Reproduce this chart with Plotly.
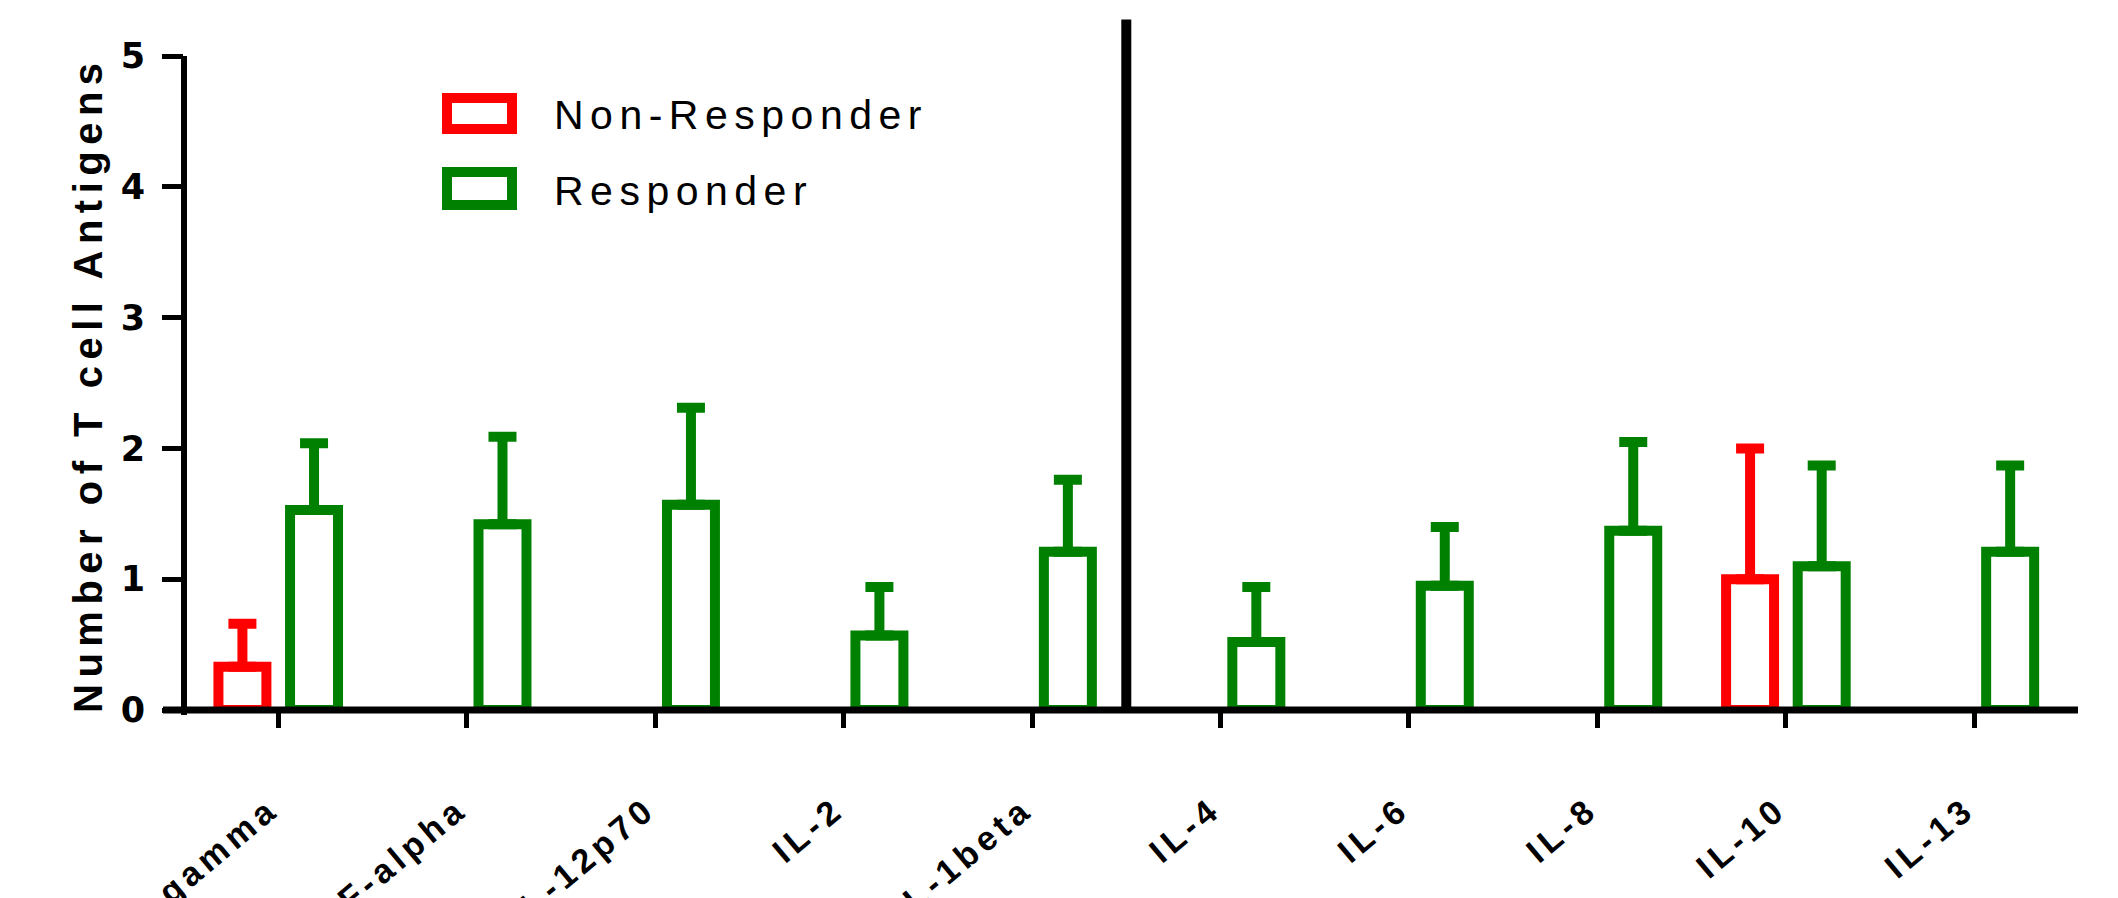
import plotly.graph_objects as go

# Cytokine panel and group summaries (mean and upper SEM)
cytokines = ["IFN-gamma", "TNF-alpha", "IL-12p70", "IL-2", "IL-1beta",
             "IL-4", "IL-6", "IL-8", "IL-10", "IL-13"]
responder_mean = [1.53, 1.42, 1.57, 0.57, 1.21, 0.52, 0.95, 1.37, 1.10, 1.21]
responder_sem = [0.51, 0.67, 0.74, 0.37, 0.55, 0.42, 0.45, 0.68, 0.77, 0.66]
non_responder_mean = [0.33, None, None, None, None, None, None, None, 1.00, None]
non_responder_sem = [0.33, None, None, None, None, None, None, None, 1.00, None]
series_names = ["Non-Responder", "Responder"]
y_ticks = [0, 1, 2, 3, 4, 5]
y_title = "Number of T cell Antigens"

RED = "#FF0000"
GREEN = "#008000"
W, H = 2118, 898
ML, MR, MT, MB = 184, 40, 10, 188
PW, PH = W - ML - MR, H - MT - MB


def px_x(p):
    return (p - ML) / PW


def px_y(p):
    return (H - MB - p) / PH


def spaced(text, px):
    return f'<span style="letter-spacing:{px}px">{text}</span>'


def one_sided(sem):
    return [0 if s is not None else None for s in sem]


fig = go.Figure()
for name, mean, sem, col in [
    (series_names[0], non_responder_mean, non_responder_sem, RED),
    (series_names[1], responder_mean, responder_sem, GREEN),
]:
    fig.add_trace(go.Bar(
        name=name, x=cytokines, y=mean,
        marker=dict(color="white", line=dict(color=col, width=10)),
        error_y=dict(type="data", symmetric=False, array=sem,
                     arrayminus=one_sided(sem), color=col,
                     thickness=10, width=14),
    ))

y_max = 5.352

# axis lines
fig.add_shape(type="line", xref="paper", yref="paper",
              x0=px_x(163), x1=1, y0=0, y1=0,
              line=dict(color="black", width=7))
fig.add_shape(type="line", xref="paper", yref="paper",
              x0=0, x1=0, y0=px_y(715), y1=5 / y_max,
              line=dict(color="black", width=6))
# divider between the two cytokine groups
fig.add_shape(type="line", xref="x", yref="y",
              x0=4.5, x1=4.5, y0=0, y1=5.28,
              line=dict(color="black", width=10))

# legend
for i, (name, col) in enumerate(zip(series_names, [RED, GREEN])):
    top, bot = [(98, 129), (172, 205)][i]
    fig.add_shape(type="rect", xref="paper", yref="paper",
                  x0=px_x(447), x1=px_x(512), y0=px_y(bot), y1=px_y(top),
                  line=dict(color=col, width=10), fillcolor="white")
    fig.add_annotation(xref="paper", yref="paper",
                       x=px_x(552), y=px_y((top + bot) / 2 + 2),
                       xanchor="left", yanchor="middle", showarrow=False,
                       text=spaced(name, 6.5),
                       font=dict(family="Liberation Sans, Arial", size=41,
                                 color="black"))

# y-axis title
fig.add_annotation(xref="paper", yref="paper",
                   x=px_x(88), y=px_y(385), xanchor="center", yanchor="middle",
                   textangle=-90, showarrow=False,
                   text=f"<b>{spaced(y_title, 6.5)}</b>",
                   font=dict(family="Liberation Sans, Arial", size=40,
                             color="black"))

fig.update_layout(
    width=W, height=H,
    margin=dict(l=ML, r=MR, t=MT, b=MB, autoexpand=False),
    paper_bgcolor="white", plot_bgcolor="white",
    barmode="group", bargap=0.24, bargroupgap=0.33,
    showlegend=False,
)
fig.update_xaxes(
    type="category", range=[-0.5, 9.55],
    tickvals=cytokines, ticktext=[f"<b>{spaced(c, 5)}</b>" for c in cytokines],
    showline=False, showgrid=False, zeroline=False,
    ticks="outside", ticklen=17, tickwidth=5, tickcolor="black",
    tickangle=-40, ticklabelstandoff=48, ticklabelshift=-8,
    tickfont=dict(family="Liberation Sans, Arial", size=34, color="black"),
)
fig.update_yaxes(
    range=[0, y_max], tickvals=y_ticks,
    ticktext=[f"<b>{v}</b>" for v in y_ticks],
    showline=False, showgrid=False, zeroline=False,
    ticks="outside", ticklen=21, tickwidth=5, tickcolor="black",
    ticklabelstandoff=10,
    tickfont=dict(family="DejaVu Sans", size=35, color="black"),
)

fig.write_html("out.html")
